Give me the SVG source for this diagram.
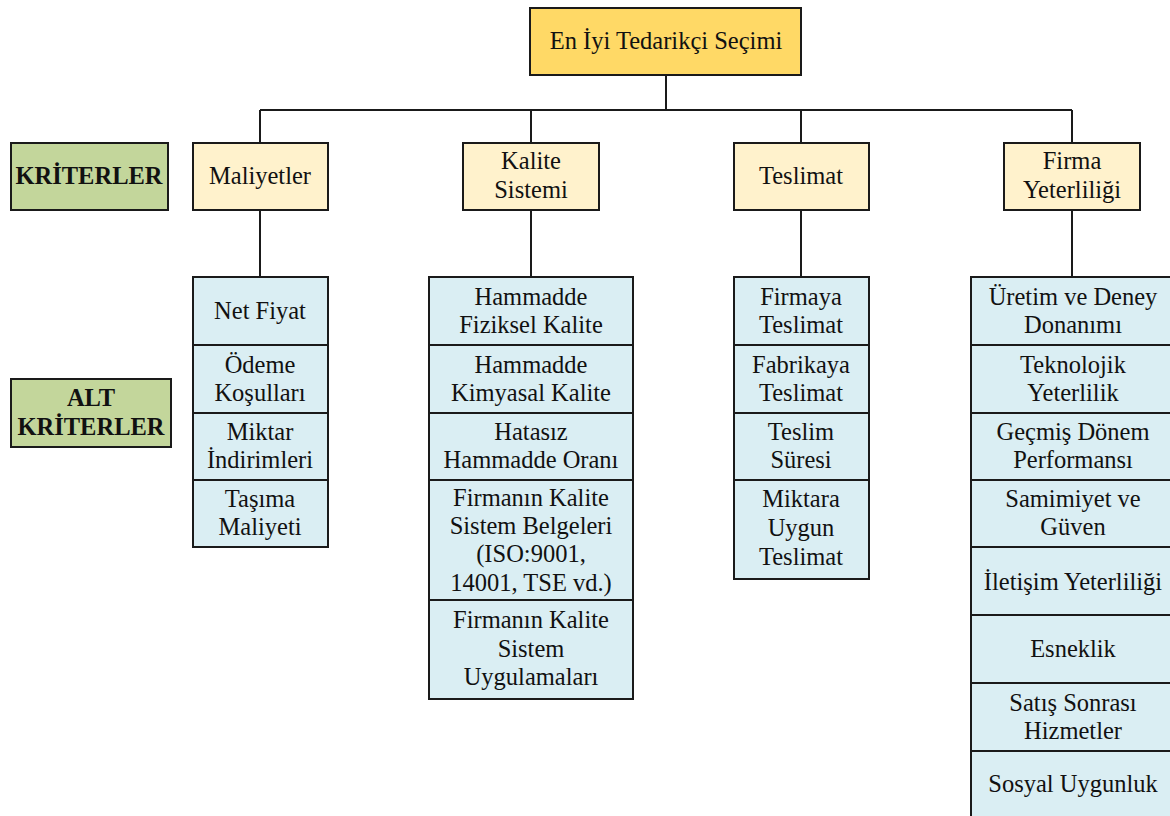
<svg xmlns="http://www.w3.org/2000/svg" width="1170" height="816" viewBox="0 0 1170 816">
<style>
.n rect{stroke:#1a1a1a;stroke-width:2}
.top{fill:#FFD966}
.crit{fill:#FFF2CC}
.lab{fill:#C3D69B}
.sub{fill:#DAEEF3}
text{font-family:"Liberation Serif","DejaVu Serif",serif;font-size:24.5px;fill:#111;text-anchor:middle}
.b{font-weight:bold}
.conn line{stroke:#1a1a1a;stroke-width:2;fill:none}
</style>
<rect x="0" y="0" width="1170" height="816" fill="#ffffff"/>
<g class="conn">
<line x1="666" y1="75" x2="666" y2="110"/>
<line x1="260" y1="110" x2="1072" y2="110"/>
<line x1="260" y1="110" x2="260" y2="143"/>
<line x1="531" y1="110" x2="531" y2="143"/>
<line x1="801" y1="110" x2="801" y2="143"/>
<line x1="1072" y1="110" x2="1072" y2="143"/>
<line x1="260" y1="210" x2="260" y2="277"/>
<line x1="531" y1="210" x2="531" y2="277"/>
<line x1="801" y1="210" x2="801" y2="277"/>
<line x1="1072" y1="210" x2="1072" y2="277"/>
</g>
<g class="n">
<g id="root"><rect class="top" x="530" y="8" width="271" height="67"/><text x="666" y="49">En İyi Tedarikçi Seçimi</text></g>
<g id="lbl-kriterler"><rect class="lab" x="11" y="143" width="157" height="67"/><text class="b" x="89" y="184">KRİTERLER</text></g>
<g id="lbl-alt"><rect class="lab" x="11" y="379" width="160" height="68"/><text class="b" x="91" y="406">ALT</text><text class="b" x="91" y="435">KRİTERLER</text></g>
<g id="maliyetler"><rect class="crit" x="193" y="143" width="135" height="67"/><text x="260" y="184">Maliyetler</text></g>
<g id="kalite"><rect class="crit" x="463" y="143" width="136" height="67"/><text x="531" y="169">Kalite</text><text x="531" y="198">Sistemi</text></g>
<g id="teslimat"><rect class="crit" x="734" y="143" width="135" height="67"/><text x="801" y="184">Teslimat</text></g>
<g id="firma"><rect class="crit" x="1004" y="143" width="136" height="67"/><text x="1072" y="169">Firma</text><text x="1072" y="198">Yeterliliği</text></g>

<g id="m1"><rect class="sub" x="193" y="277" width="135" height="68"/><text x="260" y="319">Net Fiyat</text></g>
<g id="m2"><rect class="sub" x="193" y="345" width="135" height="68"/><text x="260" y="373">Ödeme</text><text x="260" y="401">Koşulları</text></g>
<g id="m3"><rect class="sub" x="193" y="413" width="135" height="67"/><text x="260" y="440">Miktar</text><text x="260" y="468">İndirimleri</text></g>
<g id="m4"><rect class="sub" x="193" y="480" width="135" height="67"/><text x="260" y="507">Taşıma</text><text x="260" y="535">Maliyeti</text></g>

<g id="k1"><rect class="sub" x="429" y="277" width="204" height="68"/><text x="531" y="305">Hammadde</text><text x="531" y="333">Fiziksel Kalite</text></g>
<g id="k2"><rect class="sub" x="429" y="345" width="204" height="68"/><text x="531" y="373">Hammadde</text><text x="531" y="401">Kimyasal Kalite</text></g>
<g id="k3"><rect class="sub" x="429" y="413" width="204" height="67"/><text x="531" y="440">Hatasız</text><text x="531" y="468">Hammadde Oranı</text></g>
<g id="k4"><rect class="sub" x="429" y="480" width="204" height="120"/><text x="531" y="506">Firmanın Kalite</text><text x="531" y="534">Sistem Belgeleri</text><text x="531" y="562">(ISO:9001,</text><text x="531" y="591">14001, TSE vd.)</text></g>
<g id="k5"><rect class="sub" x="429" y="600" width="204" height="99"/><text x="531" y="628">Firmanın Kalite</text><text x="531" y="657">Sistem</text><text x="531" y="685">Uygulamaları</text></g>

<g id="t1"><rect class="sub" x="734" y="277" width="135" height="68"/><text x="801" y="305">Firmaya</text><text x="801" y="333">Teslimat</text></g>
<g id="t2"><rect class="sub" x="734" y="345" width="135" height="68"/><text x="801" y="373">Fabrikaya</text><text x="801" y="401">Teslimat</text></g>
<g id="t3"><rect class="sub" x="734" y="413" width="135" height="67"/><text x="801" y="440">Teslim</text><text x="801" y="468">Süresi</text></g>
<g id="t4"><rect class="sub" x="734" y="480" width="135" height="99"/><text x="801" y="507">Miktara</text><text x="801" y="536">Uygun</text><text x="801" y="565">Teslimat</text></g>

<g id="f1"><rect class="sub" x="971" y="277" width="204" height="68"/><text x="1073" y="305">Üretim ve Deney</text><text x="1073" y="333">Donanımı</text></g>
<g id="f2"><rect class="sub" x="971" y="345" width="204" height="68"/><text x="1073" y="373">Teknolojik</text><text x="1073" y="401">Yeterlilik</text></g>
<g id="f3"><rect class="sub" x="971" y="413" width="204" height="67"/><text x="1073" y="440">Geçmiş Dönem</text><text x="1073" y="468">Performansı</text></g>
<g id="f4"><rect class="sub" x="971" y="480" width="204" height="67"/><text x="1073" y="507">Samimiyet ve</text><text x="1073" y="535">Güven</text></g>
<g id="f5"><rect class="sub" x="971" y="547" width="204" height="68"/><text x="1073" y="590">İletişim Yeterliliği</text></g>
<g id="f6"><rect class="sub" x="971" y="615" width="204" height="68"/><text x="1073" y="657">Esneklik</text></g>
<g id="f7"><rect class="sub" x="971" y="683" width="204" height="68"/><text x="1073" y="711">Satış Sonrası</text><text x="1073" y="739">Hizmetler</text></g>
<g id="f8"><rect class="sub" x="971" y="751" width="204" height="70"/><text x="1073" y="792">Sosyal Uygunluk</text></g>
</g>
</svg>
